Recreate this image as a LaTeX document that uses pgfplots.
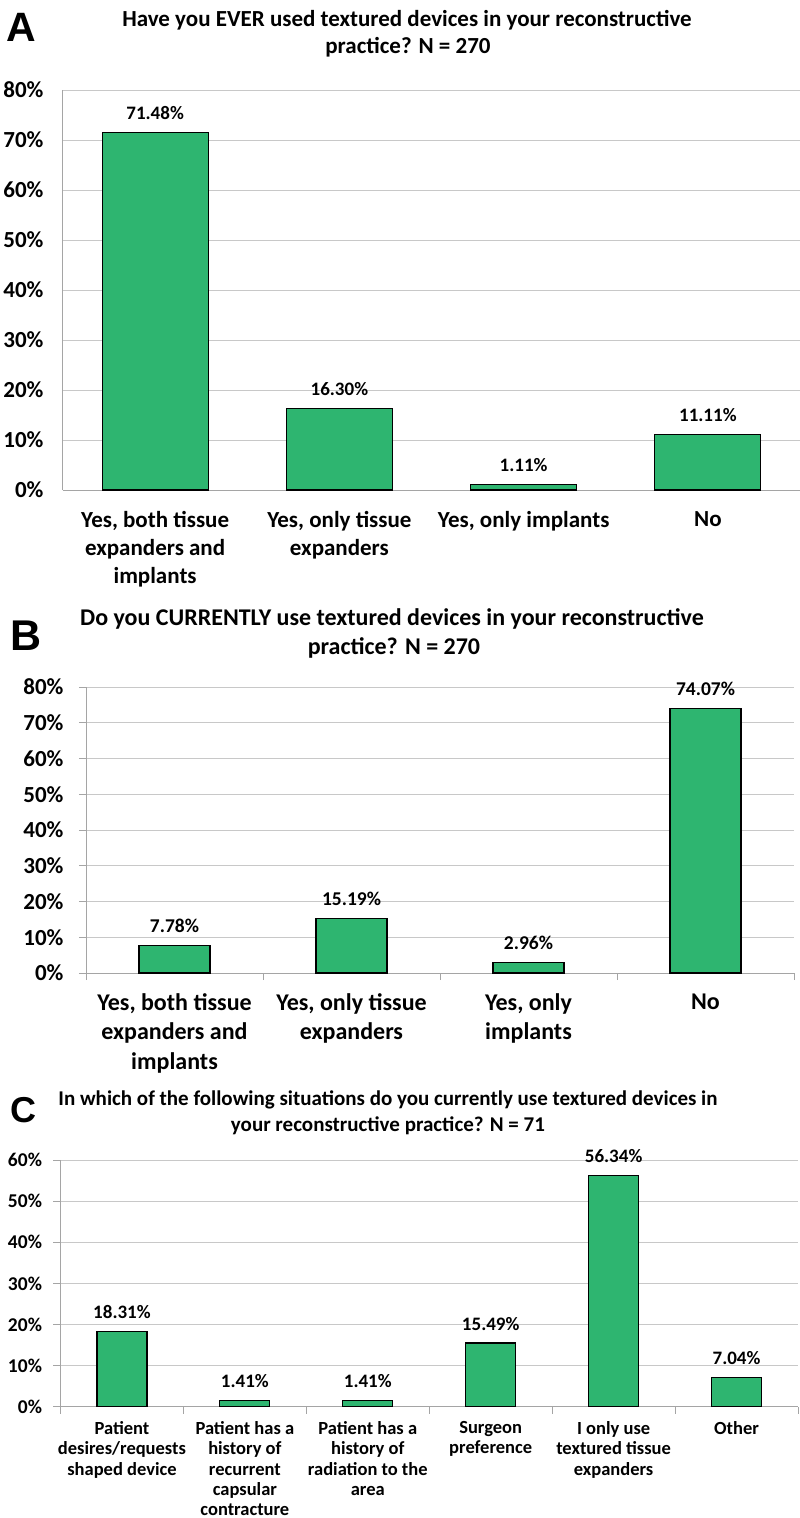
\documentclass[border=0pt]{standalone}
\usepackage{fontspec}
\setmainfont{Carlito}
\newfontfamily\lsans{Liberation Sans}
\usepackage{pgfplots}
\pgfplotsset{compat=1.18}
\definecolor{barg}{RGB}{46,181,112}
\definecolor{gridc}{RGB}{200,200,200}
\definecolor{axc}{RGB}{165,165,165}

\pgfplotsset{
  panel/.style={
    scale only axis, axis lines*=left, ymin=0,
    enlargelimits=false, clip=false,
    ymajorgrids, grid style={gridc, line width=1pt},
    axis line style={axc, line width=1pt},
    ybar, point meta=explicit symbolic,
    nodes near coords,
    nodes near coords style={anchor=base, yshift=13pt, font=\fontsize{19}{21}\selectfont\bfseries},
    tick align=outside,
    ytick style={axc, line width=1pt},
    major x tick style={draw=none},
    minor x tick style={axc, line width=1pt},
    xticklabel style={align=center, anchor=north},
  },
  bars/.style={fill=barg, draw=black, line width=1.1pt},
}

\begin{document}
\begin{tikzpicture}
\path[use as bounding box] (0pt,0pt) rectangle (800pt,-1518pt);

% ---------- A ----------
\begin{axis}[panel, at={(63pt,-490pt)}, anchor=south west,
  width=737pt, height=400pt,
  xmin=-0.5, xmax=3.5, ymax=80,
  major tick length=0pt,
  ytick={0,10,...,80},
  yticklabels={0\%,10\%,20\%,30\%,40\%,50\%,60\%,70\%,80\%},
  yticklabel style={font=\fontsize{23}{25}\selectfont\bfseries, xshift=-16pt},
  xtick={0,1,2,3},
  xticklabels={{Yes, both tissue\\expanders and\\implants},{Yes, only tissue\\expanders},{Yes, only implants},{No}},
  xticklabel style={font=\fontsize{23}{28}\selectfont\bfseries, yshift=-18pt},
]
\addplot[bars, bar width=106pt] coordinates {
  (0,71.48) [71.48\%]
  (1,16.30) [16.30\%]
  (2,1.11)  [1.11\%]
  (3,11.11) [11.11\%]
};
\end{axis}
\node[anchor=base west, font=\fontsize{41}{41}\selectfont\lsans\bfseries] at (3pt,-41.5pt) {A};
\node[anchor=base, font=\fontsize{23}{25}\selectfont\bfseries] at (407pt,-26pt) {Have you EVER used textured devices in your reconstructive};
\node[anchor=base, font=\fontsize{23}{25}\selectfont\bfseries] at (408pt,-53pt) {practice? N = 270};

% ---------- B ----------
\begin{axis}[panel, at={(86pt,-973pt)}, anchor=south west,
  width=708pt, height=286pt,
  xmin=-0.5, xmax=3.5, ymax=80,
  major tick length=7pt, minor tick length=7pt,
  ytick={0,10,...,80},
  yticklabels={0\%,10\%,20\%,30\%,40\%,50\%,60\%,70\%,80\%},
  yticklabel style={font=\fontsize{23}{25}\selectfont\bfseries, xshift=-12pt},
  xtick={0,1,2,3},
  minor xtick={-0.5,0.5,1.5,2.5,3.5},
  xticklabels={{Yes, both tissue\\expanders and\\implants},{Yes, only tissue\\expanders},{Yes, only\\implants},{No}},
  xticklabel style={font=\fontsize{24}{29.5}\selectfont\bfseries, yshift=-10pt},
  nodes near coords style={font=\fontsize{19.5}{21}\selectfont\bfseries},
]
\addplot[bars, bar width=71pt] coordinates {
  (0,7.78)  [7.78\%]
  (1,15.19) [15.19\%]
  (2,2.96)  [2.96\%]
  (3,74.07) [74.07\%]
};
\end{axis}
\node[anchor=base west, font=\fontsize{43}{43}\selectfont\lsans\bfseries] at (7pt,-650pt) {B};
\node[anchor=base, font=\fontsize{24}{26}\selectfont\bfseries] at (392pt,-625pt) {Do you CURRENTLY use textured devices in your reconstructive};
\node[anchor=base, font=\fontsize{24}{26}\selectfont\bfseries] at (394pt,-654pt) {practice? N = 270};

% ---------- C ----------
\begin{axis}[panel, at={(60.5pt,-1406.7pt)}, anchor=south west,
  width=737.5pt, height=246.7pt,
  xmin=-0.5, xmax=5.5, ymax=60,
  major tick length=7pt, minor tick length=7pt,
  ytick={0,10,...,60},
  yticklabels={0\%,10\%,20\%,30\%,40\%,50\%,60\%},
  yticklabel style={font=\fontsize{19.5}{21}\selectfont\bfseries, xshift=-8pt},
  xtick={0,1,2,3,4,5},
  minor xtick={-0.5,0.5,1.5,2.5,3.5,4.5,5.5},
  xticklabels={{Patient\\desires/requests\\shaped device},{Patient has a\\history of\\recurrent\\capsular\\contracture},{Patient has a\\history of\\radiation to the\\area},{Surgeon\\preference},{I only use\\textured tissue\\expanders},{Other}},
  xticklabel style={font=\fontsize{18.5}{20.4}\selectfont\bfseries, yshift=-4pt},
  nodes near coords style={font=\fontsize{19}{21}\selectfont\bfseries},
]
\addplot[bars, bar width=50pt] coordinates {
  (0,18.31) [18.31\%]
  (1,1.41)  [1.41\%]
  (2,1.41)  [1.41\%]
  (3,15.49) [15.49\%]
  (4,56.34) [56.34\%]
  (5,7.04)  [7.04\%]
};
\end{axis}
\node[anchor=base west, font=\fontsize{36}{36}\selectfont\lsans\bfseries] at (7pt,-1122pt) {C};
\node[anchor=base, font=\fontsize{21}{23}\selectfont\bfseries] at (388pt,-1105pt) {In which of the following situations do you currently use textured devices in};
\node[anchor=base, font=\fontsize{21}{23}\selectfont\bfseries] at (388pt,-1131pt) {your reconstructive practice? N = 71};
\end{tikzpicture}
\end{document}
